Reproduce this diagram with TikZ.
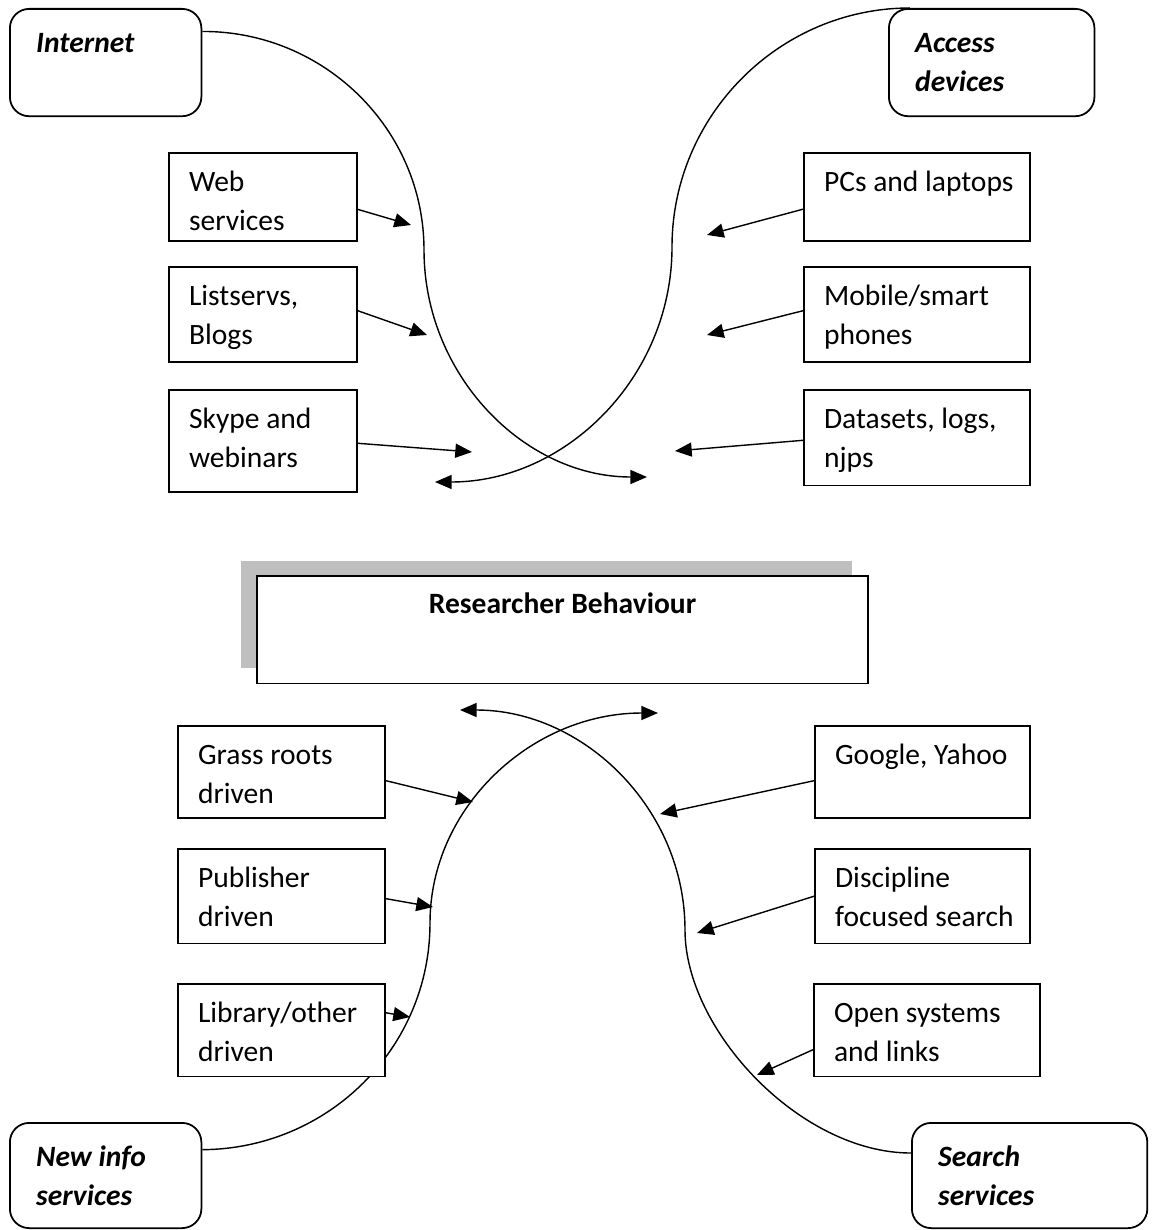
\documentclass[tikz,border=0pt]{standalone}
\usepackage{fontspec}
\setmainfont{Carlito}
\usetikzlibrary{arrows.meta,shadows}

\begin{document}
\begin{tikzpicture}
[x=0.02cm,y=-0.02cm,
 every node/.style={font=\fontsize{16.8pt}{22.7pt}\selectfont},
 grp/.style={draw,line width=1pt,rounded corners=11pt,fill=white,anchor=north west,
   inner xsep=15pt,inner ysep=0pt,text height=24.6pt,align=flush left,
   font=\fontsize{16.8pt}{22.7pt}\selectfont\bfseries\itshape},
 item/.style={draw,line width=1pt,fill=white,anchor=north west,
   inner xsep=11.5pt,inner ysep=0pt,text height=21.7pt,align=flush left},
 arc/.style={line width=0.8pt,-{Triangle[length=9.5pt,width=8pt]}},
 be/.style={line width=0.8pt,-{Triangle[length=9.5pt,width=8pt]}}]
\useasboundingbox (0,0) rectangle (1152,1230);

% corner groups
\node[grp,text width=79pt,text depth=36.5pt] (inet) at (9,8) {Internet};
\node[grp,text width=87pt,text depth=36.5pt] (acc) at (888,8) {Access\\devices};
\node[grp,text width=79pt,text depth=35.3pt] (nis) at (9,1122) {New info\\services};
\node[grp,text width=104pt,text depth=35.3pt] (srch) at (911,1122) {Search\\services};

% free ends of the big curves
\coordinate (itip) at (647,477);
\coordinate (atip) at (435,482);
\coordinate (ntip) at (658,713);
\coordinate (stip) at (460,710);

\draw[arc] ([yshift=17.7pt]inet.east) .. controls (324,31) and (424,129) .. (424,250)
  .. controls (424,375) and (524,477) .. (itip);
\draw[arc] ([xshift=12.5pt]acc.north west) .. controls (779,8) and (672,116) .. (672,247)
  .. controls (672,377) and (566,482) .. (atip);
\draw[arc] ([yshift=14.7pt]nis.east) .. controls (328,1149) and (430,1048) .. (430,923)
  .. controls (430,807) and (532,713) .. (ntip);
\draw[arc] ([yshift=12.8pt]srch.west) .. controls (800,1153) and (685,1030) .. (685,930)
  .. controls (685,809) and (584,710) .. (stip);

% centre box
\node[draw,line width=1pt,fill=white,anchor=north west,inner xsep=10pt,inner ysep=0pt,
  text width=328pt,text height=21.5pt,text depth=39.7pt,align=flush center,
  font=\fontsize{16.8pt}{22.7pt}\selectfont\bfseries,
  general shadow={fill=black!25,shadow xshift=-9.1pt,shadow yshift=8.5pt}]
  (rb) at (256,575) {Researcher Behaviour};

% upper items
\node[item,text width=84pt,text depth=28.4pt] (web) at (168,152) {Web\\services};
\node[item,text width=84pt,text depth=32.6pt] (lst) at (168,266) {Listservs,\\Blogs};
\node[item,text width=84pt,text depth=36.5pt] (sky) at (168,389) {Skype and\\webinars};
\node[item,text width=105.8pt,text depth=28.4pt] (pcs) at (803,152) {\mbox{PCs and laptops}};
\node[item,text width=105.8pt,text depth=32.6pt] (mob) at (803,266) {Mobile/smart\\phones};
\node[item,text width=105.8pt,text depth=32.7pt] (dat) at (803,389) {\mbox{Datasets, logs,}\\njps};

% lower items
\node[item,text width=95pt,text depth=30.9pt] (grs) at (177,725) {Grass roots\\driven};
\node[item,text width=95pt,text depth=32.2pt] (pub) at (177,848) {Publisher\\driven};
\node[item,text width=95pt,text depth=31pt] (lib) at (177,983) {\mbox{Library/other}\\driven};
\node[item,text width=99.5pt,text depth=30.9pt] (goo) at (814,725) {\mbox{Google, Yahoo}};
\node[item,text width=99.5pt,text depth=32.2pt] (dis) at (814,848) {Discipline\\\mbox{focused search}};
\node[item,text width=105.9pt,text depth=31pt] (opn) at (813,983) {\mbox{Open systems}\\and links};

\coordinate (wtip) at (411,225);
\coordinate (ltip) at (427,335);
\coordinate (ktip) at (472,452);
\coordinate (ptip) at (707,235);
\coordinate (mtip) at (707,335);
\coordinate (dtip) at (675,451);
\coordinate (gtip) at (473,802);
\coordinate (btip) at (433,907);
\coordinate (rtip) at (410,1017);
\coordinate (otip) at (660,814);
\coordinate (ctip) at (697,933);
\coordinate (etip) at (757,1075);

\draw[be] ([yshift=-7.1pt]web.east) -- (wtip);
\draw[be] ([yshift=2.2pt]lst.east) -- (ltip);
\draw[be] ([yshift=-1.3pt]sky.east) -- (ktip);
\draw[be] ([yshift=-7pt]pcs.west) -- (ptip);
\draw[be] ([yshift=2.2pt]mob.west) -- (mtip);
\draw[be] ([yshift=-1.5pt]dat.west) -- (dtip);
\draw[be] ([yshift=-4.9pt]grs.east) -- (gtip);
\draw[be] ([yshift=-1.4pt]pub.east) -- (btip);
\draw[be] ([yshift=9.9pt]lib.east) -- (rtip);
\draw[be] ([yshift=-4.9pt]goo.west) -- (otip);
\draw[be] (dis.west) -- (ctip);
\draw[be] ([yshift=-11.1pt]opn.west) -- (etip);

\end{tikzpicture}
\end{document}
